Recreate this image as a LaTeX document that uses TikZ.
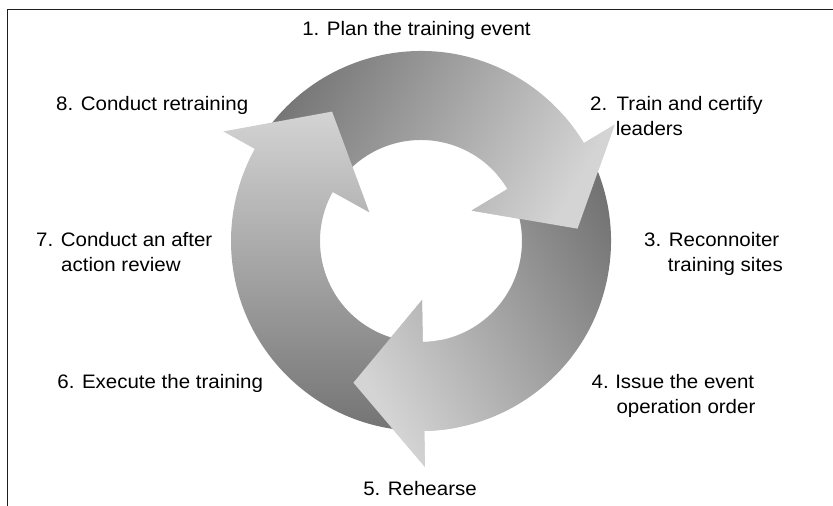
\documentclass[tikz,border=0pt]{standalone}
\usepackage{fontspec}
\setmainfont{Liberation Sans}[FakeStretch=1.05]
\definecolor{dk}{gray}{0.45}
\definecolor{lt}{gray}{0.83}
\pgfdeclareverticalshading{arrowshade}{100bp}{color(0bp)=(dk); color(25bp)=(dk); color(75bp)=(lt); color(100bp)=(lt)}
\tikzset{
  cycarrow/.style 2 args={insert path={(#1:190) arc[start angle=#1,end angle=#2,radius=190]
      -- (#2:226) -- ({#2-26.5}:157) -- (#2:59) -- (#2:101)
      arc[start angle=#2,end angle=#1,radius=101] -- cycle}},
  arrowfill/.style={shading=arrowshade, shading angle=#1},
  lbl/.style={font=\fontsize{19.5bp}{25bp}\selectfont, inner sep=0pt, text=black},
  frameline/.style={line width=1.1bp, draw=black!88}
}
\begin{document}
\begin{tikzpicture}[x=1bp,y=1bp]
\useasboundingbox (0,0) rectangle (833,506);
% frame
\coordinate (fbl) at (7.3,0);
\coordinate (ftl) at (7.3,496.7);
\coordinate (ftr) at (833,496.7);
\draw[frameline] (fbl) -- (ftl) -- (ftr);
% cycle arrows
\begin{scope}[shift={(421,265)}]
  \shade[arrowfill=-120, cycarrow={151}{31}];
  \shade[arrowfill=120, cycarrow={31}{-89}];
  \shade[arrowfill=0, cycarrow={271}{151}];
  \begin{scope}
    \clip (0,0) -- (41:320) -- (-9:320) -- cycle;
    \shade[arrowfill=-120, cycarrow={151}{31}];
  \end{scope}
  \begin{scope}
    \clip (0,0) -- (-79:320) -- (-129:320) -- cycle;
    \shade[arrowfill=120, cycarrow={31}{-89}];
  \end{scope}
\end{scope}
% labels
\node[lbl, anchor=base] (l1) at (416.5,470.3) {1. Plan the training event};
\node[lbl, anchor=base west] (l2) at (590,395.3) {\begin{tabular}[t]{@{}l@{}}2.\hspace{9.4bp}Train and certify\\\hspace*{25.6bp}leaders\end{tabular}};
\node[lbl, anchor=base west] (l3) at (644,259) {\begin{tabular}[t]{@{}l@{}}3. Reconnoiter\\\hspace*{23.7bp}training sites\end{tabular}};
\node[lbl, anchor=base west] (l4) at (591.5,117) {\begin{tabular}[t]{@{}l@{}}4.\hspace{6.5bp}Issue the event\\\hspace*{24.8bp}operation order\end{tabular}};
\node[lbl, anchor=base] (l5) at (420,10.3) {5. Rehearse};
\node[lbl, anchor=base west] (l6) at (57.2,117) {6. Execute the training};
\node[lbl, anchor=base west] (l7) at (36,259) {\begin{tabular}[t]{@{}l@{}}7. Conduct an after\\\hspace*{25bp}action review\end{tabular}};
\node[lbl, anchor=base west] (l8) at (56,395.3) {8. Conduct retraining};
\end{tikzpicture}
\end{document}
